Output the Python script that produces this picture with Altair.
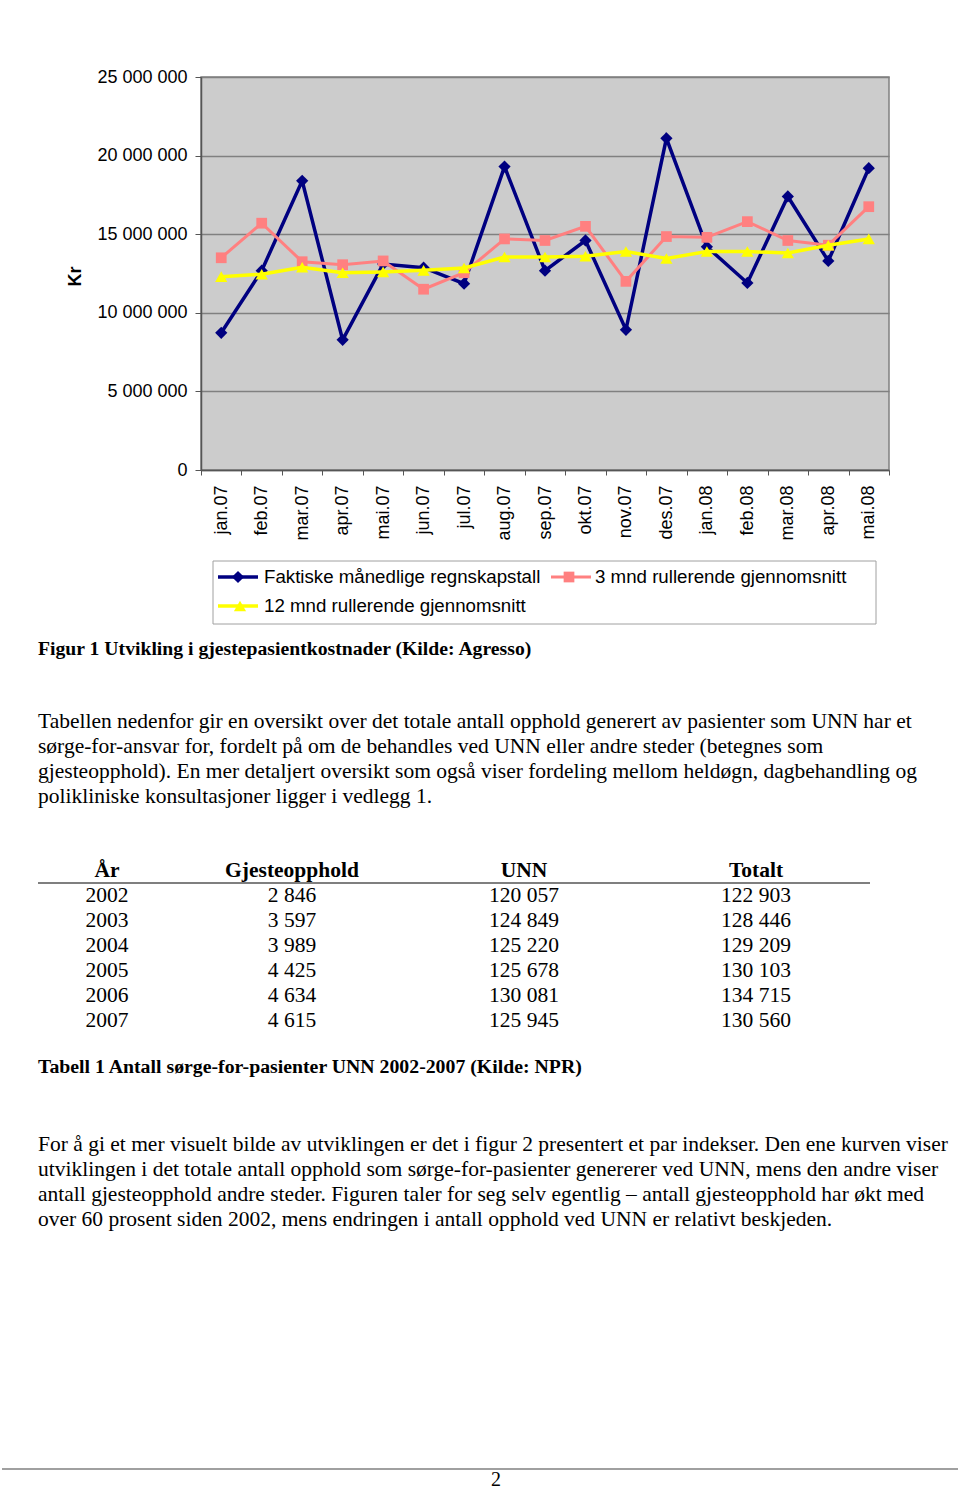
import altair as alt
import pandas as pd

# ---------------- data ----------------
months = ["jan.07", "feb.07", "mar.07", "apr.07", "mai.07", "jun.07", "jul.07",
          "aug.07", "sep.07", "okt.07", "nov.07", "des.07", "jan.08", "feb.08",
          "mar.08", "apr.08", "mai.08"]
faktiske = [8730000, 12680000, 18400000, 8280000, 13100000, 12870000, 11850000,
            19300000, 12680000, 14600000, 8920000, 21100000, 14200000, 11900000,
            17400000, 13300000, 19200000]
rull3 = [13500000, 15700000, 13250000, 13060000, 13300000, 11500000, 12550000,
         14700000, 14600000, 15500000, 12000000, 14850000, 14800000, 15800000,
         14600000, 14300000, 16750000]
rull12 = [12300000, 12450000, 12900000, 12550000, 12600000, 12700000, 12850000,
          13550000, 13550000, 13600000, 13900000, 13450000, 13900000, 13900000,
          13800000, 14300000, 14700000]
series_names = ["Faktiske månedlige regnskapstall", "3 mnd rullerende gjennomsnitt",
                "12 mnd rullerende gjennomsnitt"]
y_ticks = [0, 5000000, 10000000, 15000000, 20000000, 25000000]

tab_head = ["År", "Gjesteopphold", "UNN", "Totalt"]
tab_year = ["2002", "2003", "2004", "2005", "2006", "2007"]
tab_gjest = ["2 846", "3 597", "3 989", "4 425", "4 634", "4 615"]
tab_unn = ["120 057", "124 849", "125 220", "125 678", "130 081", "125 945"]
tab_tot = ["122 903", "128 446", "129 209", "130 103", "134 715", "130 560"]

fig_caption = "Figur 1 Utvikling i gjestepasientkostnader (Kilde: Agresso)"
tab_caption = "Tabell 1 Antall sørge-for-pasienter UNN 2002-2007 (Kilde: NPR)"
para1 = [
    "Tabellen nedenfor gir en oversikt over det totale antall opphold generert av pasienter som UNN har et",
    "sørge-for-ansvar for, fordelt på om de behandles ved UNN eller andre steder (betegnes som",
    "gjesteopphold). En mer detaljert oversikt som også viser fordeling mellom heldøgn, dagbehandling og",
    "polikliniske konsultasjoner ligger i vedlegg 1.",
]
para2 = [
    "For å gi et mer visuelt bilde av utviklingen er det i figur 2 presentert et par indekser. Den ene kurven viser",
    "utviklingen i det totale antall opphold som sørge-for-pasienter genererer ved UNN, mens den andre viser",
    "antall gjesteopphold andre steder. Figuren taler for seg selv egentlig – antall gjesteopphold har økt med",
    "over 60 prosent siden 2002, mens endringen i antall opphold ved UNN er relativt beskjeden.",
]
page_no = "2"

# ---------------- layout ----------------
OX, OY = 201, 77          # plot origin on the page
W, H = 688, 393           # plot area
PAGE_W, PAGE_H = 960, 1491
SANS = "Liberation Sans"
SERIF = "Liberation Serif"
BODY = 21.5


def vx(x):
    return x - OX


def vy(y):
    return y - OY


def txt(s, x, y, size=BODY, font=SERIF, weight="normal", align="left", color="black"):
    return alt.Chart(pd.DataFrame({"t": [s]})).mark_text(
        align=align, baseline="middle", fontSize=size, font=font,
        fontWeight=weight, color=color
    ).encode(x=alt.value(vx(x)), y=alt.value(vy(y)), text="t:N")


df = pd.DataFrame({
    "month": months * 3,
    "value": faktiske + rull3 + rull12,
    "series": [series_names[0]] * len(months) + [series_names[1]] * len(months)
              + [series_names[2]] * len(months),
})

x_enc = alt.X(
    "month:O", sort=months,
    scale=alt.Scale(type="band", paddingInner=0, paddingOuter=0),
    axis=alt.Axis(title=None, labelAngle=270, labelFontSize=18, labelFont=SANS,
                  labelColor="black", labelPadding=10, tickBand="extent",
                  tickSize=5, tickColor="#555555", domainColor="#555555",
                  domainWidth=1.5, grid=False, labelOverlap=False),
)
y_enc = alt.Y(
    "value:Q",
    scale=alt.Scale(domain=[0, 25000000], nice=False, zero=True),
    axis=alt.Axis(values=y_ticks,
                  labelExpr="replace(format(datum.value, ','), regexp(',', 'g'), ' ')",
                  labelFontSize=18, labelFont=SANS, labelColor="black",
                  labelPadding=8, tickSize=6, tickColor="#555555",
                  domainColor="#555555", domainWidth=1.5,
                  gridColor="#808080", gridWidth=1.5,
                  title="Kr", titleFont=SANS, titleFontSize=18, titleFontWeight="bold",
                  titleColor="black", titleAngle=270, titleX=vx(75), titleY=vy(276),
                  titleAlign="center", titleBaseline="middle"),
)


def series_layers(name, color, shape, size, sw):
    base = alt.Chart(df).transform_filter(alt.datum.series == name)
    line = base.mark_line(color=color, strokeWidth=sw).encode(x=x_enc, y=y_enc)
    pts = base.mark_point(shape=shape, filled=True, color=color, size=size,
                          opacity=1).encode(x=x_enc, y=y_enc)
    return [line, pts]


colors = ["#000080", "#ff8080", "#ffff00"]
shapes = ["diamond", "square", "triangle-up"]
sizes = [150, 115, 150]
widths = [3.5, 3, 3.5]

layers = []
for i in range(3):
    layers += series_layers(series_names[i], colors[i], shapes[i], sizes[i], widths[i])

one = pd.DataFrame({"k": [0]})

# legend box
layers.append(alt.Chart(one).mark_rect(fill="white", stroke="#a0a0a0", strokeWidth=1).encode(
    x=alt.value(vx(213)), x2=alt.value(vx(876)), y=alt.value(vy(561)), y2=alt.value(vy(624))))
leg = [(218, 258, 238, 577, 264), (551, 591, 569, 577, 595), (218, 258, 240, 606, 264)]
for i, (x1, x2, xm, yl, xt) in enumerate(leg):
    layers.append(alt.Chart(one).mark_rule(color=colors[i], strokeWidth=widths[i]).encode(
        x=alt.value(vx(x1)), x2=alt.value(vx(x2)), y=alt.value(vy(yl))))
    layers.append(alt.Chart(one).mark_point(shape=shapes[i], filled=True, color=colors[i],
                                            size=sizes[i], opacity=1).encode(
        x=alt.value(vx(xm)), y=alt.value(vy(yl))))
    layers.append(txt(series_names[i], xt, yl, size=18.7, font=SANS))

# captions and text
layers.append(txt(fig_caption, 38, 649, size=19.7, weight="bold"))
for i, line in enumerate(para1):
    layers.append(txt(line, 38, 722 + 25 * i))

col_x = [107, 292, 524, 756]
for j, h in enumerate(tab_head):
    layers.append(txt(h, col_x[j], 871, weight="bold", align="center"))
layers.append(alt.Chart(one).mark_rule(color="black", strokeWidth=1.2).encode(
    x=alt.value(vx(38)), x2=alt.value(vx(870)), y=alt.value(vy(883))))
for r in range(len(tab_year)):
    yy = 896 + 25 * r
    for j, col in enumerate([tab_year, tab_gjest, tab_unn, tab_tot]):
        layers.append(txt(col[r], col_x[j], yy, align="center"))

layers.append(txt(tab_caption, 38, 1067, size=19.8, weight="bold"))
for i, line in enumerate(para2):
    layers.append(txt(line, 38, 1145 + 25 * i))

layers.append(alt.Chart(one).mark_rule(color="#808080", strokeWidth=1.5).encode(
    x=alt.value(vx(2)), x2=alt.value(vx(958)), y=alt.value(vy(1469))))
layers.append(txt(page_no, 496, 1480, size=20, align="center"))

chart = alt.layer(*layers).properties(
    width=W, height=H,
    padding={"left": OX, "top": OY, "right": PAGE_W - OX - W, "bottom": PAGE_H - OY - H},
    autosize=alt.AutoSizeParams(type="none"),
    background="white",
).configure_view(fill="#cccccc", stroke="#808080", strokeWidth=1.5)

chart.save("out.html", embed_options={"renderer": "svg", "actions": False})
